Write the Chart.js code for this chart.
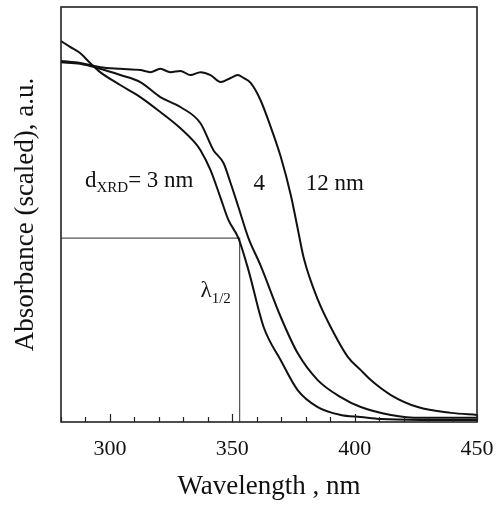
<!DOCTYPE html>
<html><head><meta charset="utf-8">
<script src="https://cdn.jsdelivr.net/npm/chart.js@4/dist/chart.umd.min.js"></script>
<style>html,body{margin:0;padding:0;background:#fff;overflow:hidden}#wrap{width:497px;height:507px;position:relative;overflow:hidden}canvas{display:block}</style>
</head><body><div id="wrap"><canvas id="c" width="520" height="507"></canvas></div>
<script>
// ---- data ----
const wl3nm  = [280,283.7,287.8,291.9,296.0,304.2,312.4,320.6,328.8,334.9,337.0,341.1,345.2,348.4,352.5,356.6,362.8,369.8,376.7,384.9,394.3,402.5,410.7,427.1,450];
const abs3nm = [0.918,0.904,0.889,0.865,0.843,0.812,0.783,0.747,0.708,0.672,0.655,0.607,0.540,0.487,0.443,0.366,0.229,0.149,0.077,0.036,0.017,0.012,0.007,0.005,0.005];

const wl4nm  = [280,287.8,296.0,304.2,312.4,320.6,328.8,337.0,342.3,346.4,349.3,352.5,356.6,361.5,369.8,376.7,384.9,394.3,402.5,414.8,427.1,450];
const abs4nm = [0.867,0.863,0.851,0.836,0.819,0.783,0.759,0.720,0.655,0.624,0.576,0.518,0.443,0.378,0.253,0.166,0.101,0.060,0.036,0.017,0.010,0.010];

const wl12nm  = [280,287.8,296.0,304.2,312.4,316.5,320.6,324.7,328.8,332.9,337.0,341.1,345.2,349.3,352.2,354.6,357.5,361.5,365.7,369.8,373.9,376.7,379.2,385.0,390.2,397.2,402.5,406.6,414.8,425.8,439.3,450];
const abs12nm = [0.870,0.865,0.855,0.851,0.848,0.843,0.851,0.843,0.846,0.836,0.843,0.836,0.819,0.829,0.836,0.829,0.817,0.776,0.711,0.639,0.547,0.467,0.395,0.294,0.229,0.157,0.125,0.101,0.065,0.036,0.022,0.017];

const halfWl  = [280, 353, 353];      // lambda_1/2 guide
const halfAbs = [0.443, 0.443, 0];

const xMin = 280, xMax = 450, xStep = 10;
const xLabels = [300, 350, 400, 450];

const seriesLabels = ['3 nm', '4 nm', '12 nm'];

// ---- build ----
const pts = (xs, ys) => xs.map((x, i) => ({x, y: ys[i]}));
const serif = '"Liberation Serif", "DejaVu Serif", serif';

const curve = (label, xs, ys) => ({
  label, data: pts(xs, ys), borderColor: '#111', borderWidth: 2,
  pointRadius: 0, cubicInterpolationMode: 'monotone', fill: false
});

const decor = {
  id: 'decor',
  afterDatasetsDraw(chart) {
    const {ctx, chartArea: a, scales: {x, y}} = chart;
    ctx.save();
    // frame
    ctx.strokeStyle = '#222'; ctx.lineWidth = 1.6;
    ctx.strokeRect(a.left, a.top, a.right - a.left, a.bottom - a.top);
    // inward ticks
    ctx.lineWidth = 1.2;
    x.ticks.forEach(t => {
      const px = Math.round(x.getPixelForValue(t.value)) + 0.5;
      const len = (t.value % 50 === 0) ? 8 : 5;
      ctx.beginPath(); ctx.moveTo(px, a.bottom); ctx.lineTo(px, a.bottom - len); ctx.stroke();
    });
    // annotations
    ctx.fillStyle = '#111'; ctx.textBaseline = 'alphabetic'; ctx.textAlign = 'left';
    const big = '23px ' + serif, small = '15px ' + serif;
    let px = x.getPixelForValue(289.8), py = y.getPixelForValue(0.566);
    ctx.font = big; ctx.fillText('d', px, py); px += ctx.measureText('d').width;
    ctx.font = small; ctx.fillText('XRD', px, py + 5); px += ctx.measureText('XRD').width;
    ctx.font = big; ctx.fillText('= 3 nm', px, py);
    ctx.fillText('4', x.getPixelForValue(358.7), y.getPixelForValue(0.56));
    ctx.fillText('12 nm', x.getPixelForValue(380.0), y.getPixelForValue(0.56));
    px = x.getPixelForValue(337.0); py = y.getPixelForValue(0.301);
    ctx.fillText('\u03bb', px, py); px += ctx.measureText('\u03bb').width;
    ctx.font = small; ctx.fillText('1/2', px, py + 6);
    ctx.restore();
  }
};

new Chart(document.getElementById('c'), {
  type: 'line',
  data: {
    datasets: [
      curve(seriesLabels[0], wl3nm, abs3nm),
      curve(seriesLabels[1], wl4nm, abs4nm),
      curve(seriesLabels[2], wl12nm, abs12nm),
      { label: 'lambda1/2', data: pts(halfWl, halfAbs), borderColor: '#555', borderWidth: 1.2,
        pointRadius: 0, tension: 0, fill: false }
    ]
  },
  options: {
    responsive: false, animation: false, devicePixelRatio: 1,
    layout: { padding: { top: 7, right: 43, left: 0, bottom: 0 } },
    plugins: { legend: { display: false }, tooltip: { enabled: false } },
    scales: {
      x: {
        type: 'linear', min: xMin, max: xMax,
        grid: { display: false, drawTicks: false },
        border: { display: false },
        ticks: {
          stepSize: xStep, autoSkip: false, maxRotation: 0, padding: 14,
          color: '#111', font: { family: serif, size: 22 },
          callback: v => xLabels.includes(v) ? String(v) : ''
        },
        title: { display: true, text: 'Wavelength , nm', color: '#111',
                 font: { family: serif, size: 27 }, padding: { top: 0, bottom: 3.5 } },
        afterFit: s => { s.height = 85; }
      },
      y: {
        type: 'linear', min: 0, max: 1,
        grid: { display: false, drawTicks: false },
        border: { display: false },
        ticks: { display: false },
        title: { display: true, text: 'Absorbance (scaled), a.u.', color: '#111',
                 font: { family: serif, size: 27 }, padding: { top: 10, bottom: 0 } },
        afterFit: s => { s.width = 61; }
      }
    }
  },
  plugins: [decor]
});
</script>
</body></html>
